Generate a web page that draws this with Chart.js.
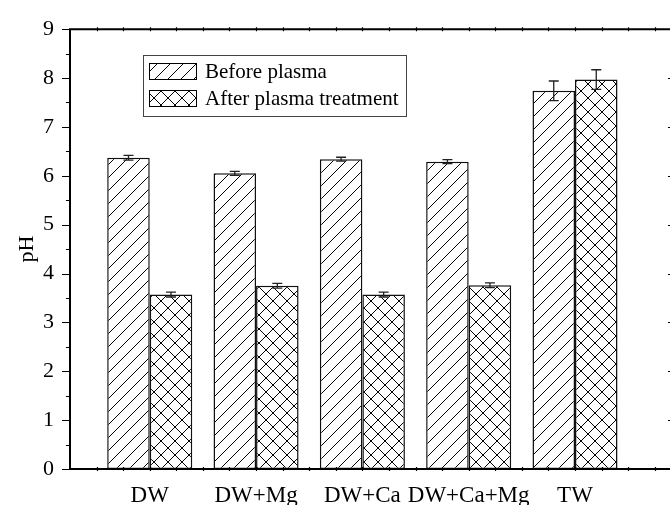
<!DOCTYPE html>
<html>
<head>
<meta charset="utf-8">
<script src="https://cdn.jsdelivr.net/npm/chart.js@4.4.0/dist/chart.umd.min.js"></script>
<style>
  html,body{margin:0;padding:0;background:#fff;}
  #wrap{width:670px;height:505px;overflow:hidden;}
</style>
</head>
<body>
<div id="wrap"><canvas id="c" width="680" height="505"></canvas></div>
<script>
const categories=['DW','DW+Mg','DW+Ca','DW+Ca+Mg','TW'];
const positions=[1,2,3,4,5];
const beforePH=[6.37,6.05,6.34,6.29,7.74];
const beforeErr=[0.05,0.04,0.04,0.04,0.2];
const afterPH=[3.57,3.75,3.57,3.76,7.97];
const afterErr=[0.05,0.05,0.05,0.05,0.2];
const yTicks=[0,1,2,3,4,5,6,7,8,9];
const seriesNames=['Before plasma','After plasma treatment'];

const serif='"Liberation Serif","Times New Roman",serif';

function hatch(size,cross){
  const c=document.createElement('canvas');
  c.width=c.height=size;
  const g=c.getContext('2d');
  g.fillStyle='#fff';g.fillRect(0,0,size,size);
  g.strokeStyle='#000';g.lineWidth=1;
  g.beginPath();
  g.moveTo(0,size);g.lineTo(size,0);
  g.moveTo(-size/2,size/2);g.lineTo(size/2,-size/2);
  g.moveTo(size/2,size*1.5);g.lineTo(size*1.5,size/2);
  if(cross){
    g.moveTo(0,0);g.lineTo(size,size);
    g.moveTo(size/2,-size/2);g.lineTo(size*1.5,size/2);
    g.moveTo(-size/2,size/2);g.lineTo(size/2,size*1.5);
  }
  g.stroke();
  return g.createPattern(c,'repeat');
}
const diag=hatch(13,false);
const cross=hatch(14,true);

const errs=[beforeErr,afterErr];

const errorBars={
  id:'errorBars',
  afterDatasetsDraw(chart){
    const ctx=chart.ctx, y=chart.scales.y;
    ctx.save();
    ctx.strokeStyle='#222';ctx.lineWidth=1.3;
    chart.data.datasets.forEach((ds,di)=>{
      chart.getDatasetMeta(di).data.forEach((bar,i)=>{
        const v=ds.data[i].y, e=errs[di][i];
        const y1=y.getPixelForValue(v+e), y2=y.getPixelForValue(v-e);
        ctx.beginPath();
        ctx.moveTo(bar.x,y1);ctx.lineTo(bar.x,y2);
        ctx.moveTo(bar.x-5,y1);ctx.lineTo(bar.x+5,y1);
        ctx.moveTo(bar.x-5,y2);ctx.lineTo(bar.x+5,y2);
        ctx.stroke();
      });
    });
    ctx.restore();
  }
};

const frame={
  id:'frame',
  afterDraw(chart){
    const ctx=chart.ctx, a=chart.chartArea, x=chart.scales.x, y=chart.scales.y;
    ctx.save();
    ctx.strokeStyle='#000';
    // ticks
    ctx.lineWidth=1.2;
    ctx.beginPath();
    for(let v=0;v<=9.001;v+=0.5){
      const p=Math.round(y.getPixelForValue(v))+0.5;
      const major=Math.abs(v-Math.round(v))<0.01;
      const len=major?8:4;
      ctx.moveTo(a.left-len,p);ctx.lineTo(a.left,p);
      ctx.moveTo(a.right,p);ctx.lineTo(a.right-len,p);
    }
    for(let v=0.5;v<5.95;v+=0.25){
      const p=Math.round(x.getPixelForValue(v))+0.5;
      ctx.moveTo(p,a.top-2);ctx.lineTo(p,a.top+2);
      ctx.moveTo(p,a.bottom-2);ctx.lineTo(p,a.bottom+2);
    }
    ctx.stroke();
    // axes
    ctx.lineWidth=2;
    ctx.beginPath();
    ctx.rect(a.left,a.top,a.right-a.left,a.bottom-a.top);
    ctx.stroke();
    // legend
    ctx.lineWidth=1;
    ctx.strokeStyle='#444';
    ctx.strokeRect(143.5,55.5,263,61);
    const fills=[diag,cross];
    ctx.font='21px '+serif;
    ctx.textBaseline='middle';
    [63,90].forEach((top,i)=>{
      ctx.fillStyle=fills[i];
      ctx.fillRect(149,top,48,17);
      ctx.strokeStyle='#000';
      ctx.strokeRect(149.5,top+0.5,47,16);
      ctx.fillStyle='#000';
      ctx.fillText(seriesNames[i],205,top+9);
    });
    ctx.restore();
  }
};

new Chart(document.getElementById('c'),{
  type:'bar',
  data:{
    datasets:[
      {label:seriesNames[0],data:positions.map((p,i)=>({x:p,y:beforePH[i]})),
       backgroundColor:diag,borderColor:'#111',borderWidth:1.5,borderSkipped:false},
      {label:seriesNames[1],data:positions.map((p,i)=>({x:p,y:afterPH[i]})),
       backgroundColor:cross,borderColor:'#111',borderWidth:1.5,borderSkipped:false}
    ]
  },
  options:{
    responsive:false,
    animation:false,
    devicePixelRatio:1,
    categoryPercentage:0.8,
    barPercentage:1.0,
    layout:{padding:{top:19,right:4,left:0,bottom:0}},
    plugins:{legend:{display:false},tooltip:{enabled:false}},
    scales:{
      x:{
        type:'linear',min:0.25,max:5.95,offset:false,
        afterBuildTicks:s=>{s.ticks=positions.map(v=>({value:v}));},
        afterFit:s=>{s.height=36;},
        grid:{display:false,drawTicks:false,offset:false},
        border:{display:false},
        ticks:{padding:13,color:'#000',font:{family:serif,size:23},maxRotation:0,autoSkip:false,
          callback:v=>categories[positions.indexOf(v)]}
      },
      y:{
        min:0,max:9,
        afterBuildTicks:s=>{s.ticks=yTicks.map(v=>({value:v}));},
        afterFit:s=>{s.width=70;},
        grid:{display:false,drawTicks:false},
        border:{display:false},
        ticks:{padding:16,color:'#000',font:{family:serif,size:22}},
        title:{display:true,text:'pH',color:'#000',font:{family:serif,size:22},padding:{top:14,bottom:0}}
      }
    }
  },
  plugins:[errorBars,frame]
});
</script>
</body>
</html>
